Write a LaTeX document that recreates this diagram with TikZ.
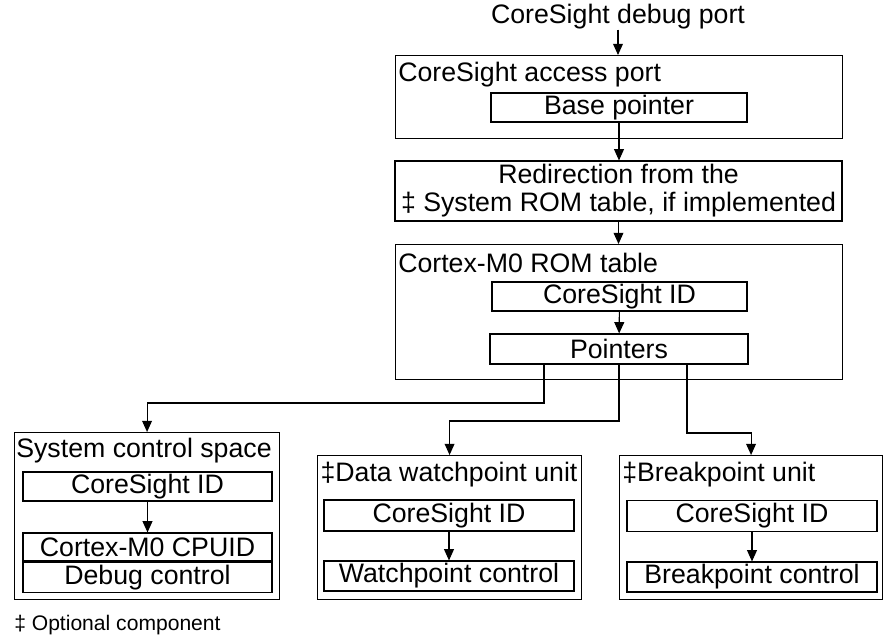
\documentclass[tikz,border=0pt]{standalone}
\usepackage{fontspec}
\setmainfont{Liberation Sans}
\usetikzlibrary{arrows.meta}

\begin{document}
\begin{tikzpicture}[
  font=\fontsize{19}{23}\selectfont,
  box/.style={draw, line width=0.8pt, inner sep=0pt},
  conn/.style={line width=0.8pt, -{Triangle[width=7pt,length=8pt]}}
]

% Sizes
\def\outw{11.175}
\def\inh{0.725}
\def\unitw{6.6}
\def\subw{6.25}

\useasboundingbox (0,0) rectangle (22.2,-15.925);

% Debug port and access port
\node[inner sep=0pt] (dp) at (15.45,-0.425) {CoreSight debug port};
\node[box, minimum width=\outw cm, minimum height=2.075cm, anchor=north west] (ap) at (9.875,-1.375) {};
\node[anchor=west, inner sep=0pt] (aplbl) at (9.95,-1.875) {CoreSight access port};
\node[box, minimum width=6.4cm, minimum height=\inh cm] (bp) at (15.475,-2.6875) {Base pointer};

% Redirection
\node[box, minimum width=\outw cm, minimum height=1.5cm, align=center, font=\fontsize{19}{20}\selectfont]
      (redir) at (15.4625,-4.775) {Redirection from the\\‡ System ROM table, if implemented};

% ROM table
\node[box, minimum width=\outw cm, minimum height=3.375cm, anchor=north west] (rom) at (9.875,-6.1) {};
\node[anchor=west, inner sep=0pt] (romlbl) at (9.95,-6.575) {Cortex-M0 ROM table};
\node[box, minimum width=6.375cm, minimum height=\inh cm] (romid) at (15.4875,-7.4125) {CoreSight ID};
\node[box, minimum width=6.45cm, minimum height=0.75cm] (ptr) at (15.475,-8.725) {Pointers};

% System control space
\node[box, minimum width=6.625cm, minimum height=4.175cm, anchor=north west] (scs) at (0.35,-10.8) {};
\node[inner sep=0pt] (scslbl) at (3.6,-11.275) {System control space};
\node[box, minimum width=6.225cm, minimum height=\inh cm] (scsid) at (3.6875,-12.1625) {CoreSight ID};
\node[box, minimum width=6.225cm, minimum height=0.7cm] (cpuid) at (3.6875,-13.675) {Cortex-M0 CPUID};
\node[box, minimum width=6.225cm, minimum height=0.75cm, anchor=north] (dbg) at (cpuid.south) {Debug control};

% Data watchpoint unit
\node[box, minimum width=\unitw cm, minimum height=3.6cm, anchor=north west] (dwu) at (7.925,-11.375) {};
\node[inner sep=0pt] (dwulbl) at (11.225,-11.875) {‡Data watchpoint unit};
\node[box, minimum width=\subw cm, minimum height=0.775cm] (dwuid) at (11.225,-12.8875) {CoreSight ID};
\node[box, minimum width=\subw cm, minimum height=0.75cm] (wpc) at (11.225,-14.4) {Watchpoint control};

% Breakpoint unit
\node[box, minimum width=6.575cm, minimum height=3.6cm, anchor=north west] (bpu) at (15.475,-11.375) {};
\node[anchor=west, inner sep=0pt] (bpulbl) at (15.55,-11.875) {‡Breakpoint unit};
\node[box, minimum width=\subw cm, minimum height=0.775cm] (bpuid) at (18.8,-12.9) {CoreSight ID};
\node[box, minimum width=\subw cm, minimum height=0.75cm] (bpc) at (18.8,-14.425) {Breakpoint control};

% Footnote
\node[anchor=west, inner sep=0pt, font=\fontsize{15}{18}\selectfont] (note) at (0.35,-15.625) {‡ Optional component};

% Connectors
\draw[conn] (dp.south) -- (dp.south |- ap.north);
\draw[conn] (bp.south) -- (bp.south |- redir.north);
\draw[conn] (redir.south) -- (redir.south |- rom.north);
\draw[conn] (romid) -- (ptr);
\draw[conn] (scsid) -- (cpuid);
\draw[conn] (dwuid) -- (wpc);
\draw[conn] (bpuid) -- (bpc);

% Pointer branches
\coordinate (tap1) at (13.6,-10.075);
\coordinate (tap2) at (15.475,-10.525);
\coordinate (tap3) at (17.175,-10.825);
\draw[conn] (tap1 |- ptr.south) -- (tap1) -| (scs.north);
\draw[conn] (ptr.south) -- (ptr.south |- tap2) -| (dwu.north);
\draw[conn] (tap3 |- ptr.south) -- (tap3) -| (bpu.north);

\end{tikzpicture}
\end{document}
